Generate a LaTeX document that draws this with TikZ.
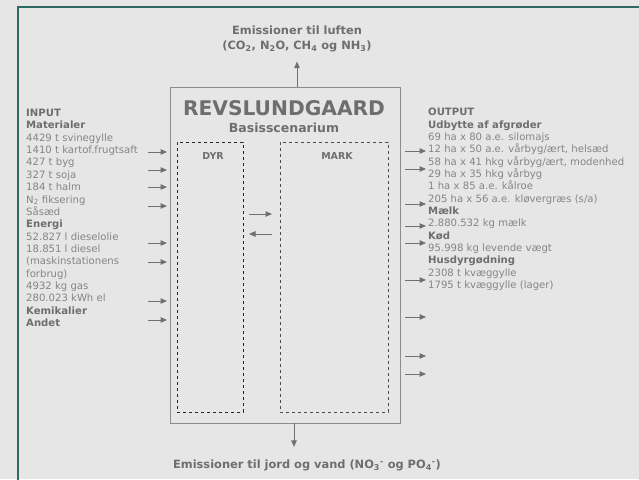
\documentclass[tikz,border=0pt]{standalone}
\usepackage{fontspec}
\setmainfont{DejaVu Sans}
\usepackage{xcolor}
\usetikzlibrary{arrows.meta}
\definecolor{frame-teal}{HTML}{2E6A62}
\definecolor{page-bg}{HTML}{E6E6E6}
\definecolor{body-gray}{HTML}{858585}
\definecolor{head-gray}{HTML}{6E6E6E}
\definecolor{line-gray}{HTML}{8C8C8C}
\definecolor{arrow-gray}{HTML}{707070}
\newcommand{\hd}[1]{\textbf{\color{head-gray}#1}}

\tikzset{
  flow/.style={-{Triangle[length=6.5pt,width=5.5pt]}, color=arrow-gray, line width=1pt},
  column/.style={anchor=north west, inner sep=0pt, align=left, text=body-gray,
                 font=\fontsize{10.1}{12.35}\selectfont},
  part/.style={draw, dashed, line width=0.7pt, inner sep=0pt, outer sep=0pt,
               minimum height=270pt},
  caption/.style={text=head-gray, font=\bfseries\fontsize{11.4}{15}\selectfont, align=center},
}

\begin{document}
\begin{tikzpicture}[x=1pt, y=-1pt]
  \useasboundingbox (0,0) rectangle (639,479);
  \fill[page-bg] (0,0) rectangle (639,479);
  \draw[frame-teal, line width=2.5pt] (18,482) -- (18,7) -- (642,7);

  % farm and its two parts
  \node[draw=line-gray, line width=0.9pt, minimum width=230pt, minimum height=336pt,
        inner sep=0pt, outer sep=0pt] (farm) at (285,255) {};
  \node[text=head-gray, font=\bfseries\fontsize{20.2}{22}\selectfont] (title) at (284,108) {REVSLUNDGAARD};
  \node[text=head-gray, font=\bfseries\fontsize{12.5}{14}\selectfont] (scen) at (284,128) {Basisscenarium};
  \node[part, draw=black!85, minimum width=66pt] (dyr) at (210,277) {};
  \node[part, draw=black!70, minimum width=108pt] (mark) at (334,277) {};
  \node[text=head-gray, font=\bfseries\fontsize{9.5}{11}\selectfont] at (213,156) {DYR};
  \node[text=head-gray, font=\bfseries\fontsize{9.5}{11}\selectfont] at (337,156) {MARK};
  \draw[flow, shorten <=6pt, shorten >=8pt] (dyr.east |- 0,214) -- (mark.west |- 0,214);
  \draw[flow, shorten <=8pt, shorten >=6pt] (mark.west |- 0,234) -- (dyr.east |- 0,234);

  % emissions
  \node[caption] (luft) at (297,39)
    {Emissioner til luften\\(CO\textsubscript{2}, N\textsubscript{2}O, CH\textsubscript{4} og NH\textsubscript{3})};
  \draw[flow, shorten >=6pt] (farm.north -| 297,0) -- (luft.south -| 297,0);
  \node[caption] (jord) at (307,465)
    {Emissioner til jord og vand (NO\textsubscript{3}\textsuperscript{-} og PO\textsubscript{4}\textsuperscript{-})};
  \draw[flow, shorten >=9pt] (farm.south -| 294,0) -- (jord.north -| 294,0);

  % input
  \node[column] (input) at (26,109) {\hd{INPUT}\\ \hd{Materialer}\\ 4429 t svinegylle\\
    1410 t kartof.frugtsaft\\ 427 t byg\\ 327 t soja\\ 184 t halm\\
    N\textsubscript{2} fiksering\\ Såsæd\\ \hd{Energi}\\ 52.827 l dieselolie\\
    18.851 l diesel\\ (maskinstationens\\ forbrug)\\ 4932 kg gas\\
    280.023 kWh el\\ \hd{Kemikalier}\\ \hd{Andet}};
  \foreach \y in {152,170,187,206,243,262,301,320}
    \draw[flow, shorten >=3pt] (148,\y) -- (farm.west |- 0,\y);

  % output
  \node[column] (output) at (428,108) {\hd{OUTPUT}\\ \hd{Udbytte af afgrøder}\\
    69 ha x 80 a.e. silomajs\\ 12 ha x 50 a.e. vårbyg/ært, helsæd\\
    58 ha x 41 hkg vårbyg/ært, modenhed\\ 29 ha x 35 hkg vårbyg\\
    1 ha x 85 a.e. kålroe\\ 205 ha x 56 a.e. kløvergræs (s/a)\\ \hd{Mælk}\\
    2.880.532 kg mælk\\ \hd{Kød}\\ 95.998 kg levende vægt\\ \hd{Husdyrgødning}\\
    2308 t kvæggylle\\ 1795 t kvæggylle (lager)};
  \foreach \y in {151,169,204,226,243,280,317,356,374}
    \draw[flow, shorten <=5pt] (farm.east |- 0,\y) -- (426,\y);
\end{tikzpicture}
\end{document}
